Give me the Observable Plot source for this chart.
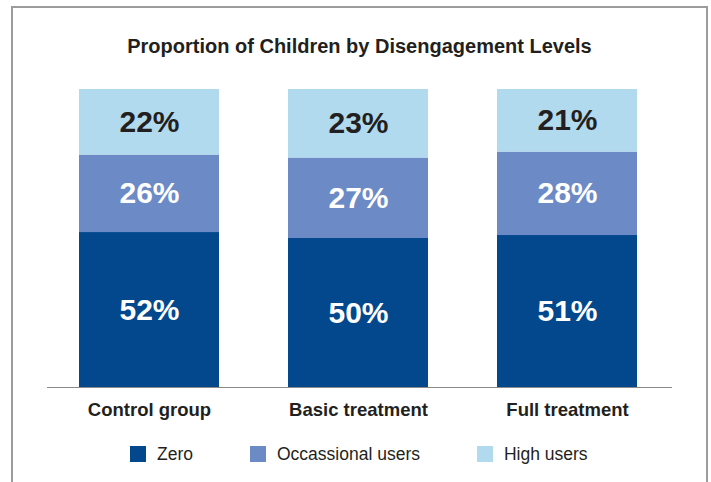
<!DOCTYPE html>
<html>
<head>
<meta charset="utf-8">
<script src="https://cdn.jsdelivr.net/npm/d3@7"></script>
<script src="https://cdn.jsdelivr.net/npm/@observablehq/plot@0.6"></script>
<style>
  html, body { margin: 0; padding: 0; background: #fff; }
  body { width: 711px; height: 482px; overflow: hidden; position: relative; font-family: "Liberation Sans", Arial, sans-serif; }
  #frame { position: absolute; left: 11px; top: 6px; width: 697px; height: 500px; border: 2px solid #9c9c9c; box-sizing: border-box; }
  #title { position: absolute; left: 11px; width: 697px; top: 35px; text-align: center; font-size: 20px; font-weight: bold; color: #231f20; line-height: 22px; }
  #chart { position: absolute; left: 0; top: 0; }
  #legend { position: absolute; left: 130px; top: 444px; display: flex; gap: 57px; font-size: 17.5px; color: #231f20; line-height: 20px; }
  .item { display: flex; align-items: center; gap: 11px; }
  .sw { width: 16px; height: 16px; display: inline-block; }
</style>
</head>
<body>
<div id="frame"></div>
<div id="title">Proportion of Children by Disengagement Levels</div>
<div id="chart"></div>
<div id="legend"></div>
<script>
const groups = ["Control group", "Basic treatment", "Full treatment"];
const levels = ["Zero", "Occassional users", "High users"];
const zeroValues = [52, 50, 51];
const occasionalValues = [26, 27, 28];
const highValues = [22, 23, 21];
const levelColors = ["#03478d", "#6c8ac6", "#b1daef"];
const labelColors = ["#ffffff", "#ffffff", "#231f20"];

const series = [zeroValues, occasionalValues, highValues];
const data = [];
groups.forEach((g, gi) => {
  levels.forEach((l, li) => {
    data.push({group: g, level: l, value: series[li][gi], color: levelColors[li], label: labelColors[li]});
  });
});

const plot = Plot.plot({
  width: 711,
  height: 482,
  marginTop: 89,
  marginBottom: 95,
  marginLeft: 47,
  marginRight: 39,
  style: {background: "transparent", fontFamily: "'Liberation Sans', Arial, sans-serif"},
  x: {domain: groups, paddingInner: 0.332, paddingOuter: 0.158, align: 0.47, label: null},
  y: {domain: [0, 100], axis: null},
  color: {type: "identity"},
  marks: [
    Plot.barY(data, {x: "group", y: "value", z: "level", fill: "color"}),
    Plot.text(data, Plot.stackY({x: "group", y: "value", z: "level", text: d => d.value + "%", fill: "label", fontSize: 30, fontWeight: "bold"})),
    Plot.ruleY([0], {stroke: "#8a8a8a", strokeWidth: 1}),
    Plot.axisX({tickSize: 0, tickPadding: 15, fontSize: 18.5, fontWeight: "bold", fill: "#231f20", label: null})
  ]
});
document.getElementById("chart").appendChild(plot);

const legend = document.getElementById("legend");
levels.forEach((l, i) => {
  const item = document.createElement("div");
  item.className = "item";
  const sw = document.createElement("span");
  sw.className = "sw";
  sw.style.background = levelColors[i];
  const t = document.createElement("span");
  t.textContent = l;
  item.appendChild(sw);
  item.appendChild(t);
  legend.appendChild(item);
});
</script>
</body>
</html>
